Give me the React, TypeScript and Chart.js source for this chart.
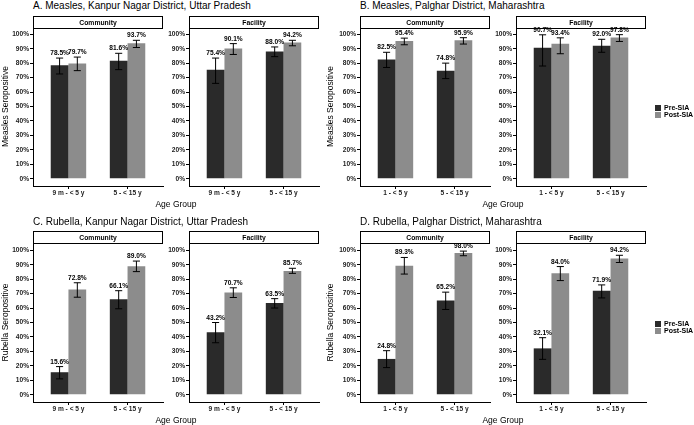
import React, { useEffect, useRef } from 'react';
import Chart from 'chart.js/auto';

Chart.defaults.font.family = "'Liberation Sans', Arial, sans-serif";

const seriesLabels = ['Pre-SIA', 'Post-SIA'];
const seriesColors = ['#2a2a2a', '#8c8c8c'];
const yTickValues = [0, 10, 20, 30, 40, 50, 60, 70, 80, 90, 100];
const kanpurAges = ['9 m - < 5 y', '5 - < 15 y'];
const palgharAges = ['1 - < 5 y', '5 - < 15 y'];

// A. Measles, Kanpur Nagar
const measlesKanpurCommPre = [78.5, 81.6];
const measlesKanpurCommPost = [79.7, 93.7];
const measlesKanpurCommPreCI = [[72.5, 83.5], [75.5, 86.8]];
const measlesKanpurCommPostCI = [[74.8, 84.2], [90.8, 95.8]];
const measlesKanpurFacPre = [75.4, 88.0];
const measlesKanpurFacPost = [90.1, 94.2];
const measlesKanpurFacPreCI = [[66.0, 83.5], [84.5, 91.2]];
const measlesKanpurFacPostCI = [[86.0, 93.5], [92.0, 95.8]];

// B. Measles, Palghar
const measlesPalgharCommPre = [82.5, 74.8];
const measlesPalgharCommPost = [95.4, 95.9];
const measlesPalgharCommPreCI = [[77.0, 87.5], [69.3, 80.0]];
const measlesPalgharCommPostCI = [[92.7, 97.3], [93.2, 97.6]];
const measlesPalgharFacPre = [90.7, 92.0];
const measlesPalgharFacPost = [93.4, 97.8];
const measlesPalgharFacPreCI = [[78.0, 99.6], [87.5, 96.5]];
const measlesPalgharFacPostCI = [[86.5, 97.5], [95.0, 99.7]];

// C. Rubella, Kanpur Nagar
const rubellaKanpurCommPre = [15.6, 66.1];
const rubellaKanpurCommPost = [72.8, 89.0];
const rubellaKanpurCommPreCI = [[11.0, 19.5], [59.5, 72.0]];
const rubellaKanpurCommPostCI = [[67.5, 77.5], [85.2, 92.5]];
const rubellaKanpurFacPre = [43.2, 63.5];
const rubellaKanpurFacPost = [70.7, 85.7];
const rubellaKanpurFacPreCI = [[36.0, 50.0], [60.0, 66.5]];
const rubellaKanpurFacPostCI = [[67.3, 74.0], [84.0, 87.5]];

// D. Rubella, Palghar
const rubellaPalgharCommPre = [24.8, 65.2];
const rubellaPalgharCommPost = [89.3, 98.0];
const rubellaPalgharCommPreCI = [[18.8, 30.5], [59.0, 71.0]];
const rubellaPalgharCommPostCI = [[83.5, 95.0], [96.2, 99.4]];
const rubellaPalgharFacPre = [32.1, 71.9];
const rubellaPalgharFacPost = [84.0, 94.2];
const rubellaPalgharFacPreCI = [[24.5, 39.5], [67.0, 76.0]];
const rubellaPalgharFacPostCI = [[79.0, 88.7], [91.5, 96.5]];

const PLOT_W = 130;
const PLOT_H = 159;
const PAD_TOP = 8;
const PAD_RIGHT = 4;
const X_AXIS_H = 14;

// error bars + value labels, placed with the chart's own scales
const ciPlugin = {
  id: 'ciBars',
  afterDatasetsDraw(chart: any) {
    const { ctx } = chart;
    const yScale = chart.scales.y;
    chart.data.datasets.forEach((ds: any, di: number) => {
      const meta = chart.getDatasetMeta(di);
      meta.data.forEach((bar: any, i: number) => {
        const [lo, hi] = ds.ci[i];
        const x = bar.x;
        const cap = bar.width * 0.4;
        const yLo = yScale.getPixelForValue(lo);
        const yHi = yScale.getPixelForValue(hi);
        ctx.save();
        ctx.strokeStyle = '#000';
        ctx.lineWidth = 1;
        ctx.beginPath();
        ctx.moveTo(x, yLo);
        ctx.lineTo(x, yHi);
        ctx.moveTo(x - cap / 2, yLo);
        ctx.lineTo(x + cap / 2, yLo);
        ctx.moveTo(x - cap / 2, yHi);
        ctx.lineTo(x + cap / 2, yHi);
        ctx.stroke();
        ctx.fillStyle = '#000';
        ctx.font = "bold 6.6px 'Liberation Sans', Arial, sans-serif";
        ctx.textAlign = 'center';
        ctx.textBaseline = 'bottom';
        ctx.fillText(ds.data[i].y.toFixed(1) + '%', x, yHi - 1.5);
        ctx.restore();
      });
    });
  },
};

interface FacetProps {
  left: number;
  top: number;
  axisW: number;
  yTitle?: string;
  titlePad?: number;
  ages: string[];
  pre: number[];
  post: number[];
  preCI: number[][];
  postCI: number[][];
}

const Facet: React.FC<FacetProps> = (p) => {
  const ref = useRef<HTMLCanvasElement>(null);

  useEffect(() => {
    if (!ref.current) return;
    const series = [p.pre, p.post];
    const cis = [p.preCI, p.postCI];
    const chart = new Chart(ref.current, {
      type: 'bar',
      data: {
        datasets: series.map((vals, s) => ({
          label: seriesLabels[s],
          data: vals.map((v, i) => ({ x: i + 1, y: v })),
          backgroundColor: seriesColors[s],
          borderWidth: 0,
          categoryPercentage: 0.6,
          barPercentage: 1,
          ci: cis[s],
        })),
      } as any,
      options: {
        animation: false,
        responsive: true,
        maintainAspectRatio: false,
        layout: { padding: { top: PAD_TOP, right: PAD_RIGHT, left: 0, bottom: 0 } },
        plugins: { legend: { display: false }, tooltip: { enabled: false } },
        scales: {
          x: {
            type: 'linear',
            min: 0.4,
            max: 2.6,
            offset: false,
            grid: { offset: false, drawOnChartArea: false, tickLength: 3, color: '#000' },
            border: { color: '#000', width: 1 },
            afterBuildTicks: (s: any) => {
              s.ticks = p.ages.map((_, i) => ({ value: i + 1 }));
            },
            afterFit: (s: any) => {
              s.height = X_AXIS_H;
            },
            ticks: {
              callback: (v: any) => p.ages[Number(v) - 1],
              font: { size: 6.6, weight: 'bold' },
              color: '#222',
              padding: 0,
              maxRotation: 0,
              autoSkip: false,
            },
          },
          y: {
            min: -5,
            max: 105,
            grid: { drawOnChartArea: false, tickLength: 3, color: '#000' },
            border: { color: '#000', width: 1 },
            afterBuildTicks: (s: any) => {
              s.ticks = yTickValues.map((v) => ({ value: v }));
            },
            afterFit: (s: any) => {
              s.width = p.axisW;
            },
            ticks: {
              callback: (v: any) => v + '%',
              font: { size: 6.6, weight: 'bold' },
              color: '#222',
              padding: 1,
            },
            title: {
              display: !!p.yTitle,
              text: p.yTitle || '',
              font: { size: 8.5, lineHeight: 1.2 },
              color: '#000',
              padding: { top: p.titlePad || 0, bottom: 0 },
            },
          },
        },
      } as any,
      plugins: [ciPlugin],
    });
    return () => chart.destroy();
  }, []);

  return (
    <div
      style={{
        position: 'absolute',
        left: p.left,
        top: p.top - PAD_TOP,
        width: p.axisW + PLOT_W + PAD_RIGHT,
        height: PAD_TOP + PLOT_H + X_AXIS_H,
      }}
    >
      <canvas ref={ref} />
    </div>
  );
};

const Strip: React.FC<{ left: number; top: number; text: string }> = ({ left, top, text }) => (
  <div
    style={{
      position: 'absolute',
      left,
      top,
      width: PLOT_W,
      height: 13,
      boxSizing: 'border-box',
      border: '1px solid #000',
      background: 'transparent',
      color: '#000',
      fontSize: 6.8,
      fontWeight: 'bold',
      lineHeight: '11px',
      textAlign: 'center',
      transform: 'translateZ(0)',
    }}
  >
    {text}
  </div>
);

const Legend: React.FC<{ top: number }> = ({ top }) => (
  <div style={{ position: 'absolute', left: 655, top }}>
    {seriesLabels.map((s, i) => (
      <div key={s} style={{ display: 'flex', alignItems: 'center', height: 7 }}>
        <div style={{ width: 6, height: 6, background: seriesColors[i], marginRight: 3 }} />
        <span style={{ fontSize: 7, fontWeight: 'bold', lineHeight: '7px' }}>{s}</span>
      </div>
    ))}
  </div>
);

const PanelTitle: React.FC<{ left: number; top: number; text: string }> = ({ left, top, text }) => (
  <div style={{ position: 'absolute', left, top, fontSize: 10, lineHeight: '10px', whiteSpace: 'nowrap' }}>
    {text}
  </div>
);

const XTitle: React.FC<{ center: number; top: number }> = ({ center, top }) => (
  <div
    style={{
      position: 'absolute',
      left: center - 40,
      width: 80,
      top,
      fontSize: 8.5,
      lineHeight: '10px',
      textAlign: 'center',
    }}
  >
    Age Group
  </div>
);

const rows = [
  {
    top: 27,
    stripTop: 16,
    titleTop: 1,
    xTitleTop: 199,
    legendTop: 104,
    yTitle: 'Measles Seropositive',
    left: {
      title: 'A. Measles, Kanpur Nagar District, Uttar Pradesh',
      ages: kanpurAges,
      comm: [measlesKanpurCommPre, measlesKanpurCommPost, measlesKanpurCommPreCI, measlesKanpurCommPostCI],
      fac: [measlesKanpurFacPre, measlesKanpurFacPost, measlesKanpurFacPreCI, measlesKanpurFacPostCI],
    },
    right: {
      title: 'B. Measles, Palghar District, Maharashtra',
      ages: palgharAges,
      comm: [measlesPalgharCommPre, measlesPalgharCommPost, measlesPalgharCommPreCI, measlesPalgharCommPostCI],
      fac: [measlesPalgharFacPre, measlesPalgharFacPost, measlesPalgharFacPreCI, measlesPalgharFacPostCI],
    },
  },
  {
    top: 243,
    stripTop: 231,
    titleTop: 217,
    xTitleTop: 415,
    legendTop: 320,
    yTitle: 'Rubella Seropositive',
    left: {
      title: 'C. Rubella, Kanpur Nagar District, Uttar Pradesh',
      ages: kanpurAges,
      comm: [rubellaKanpurCommPre, rubellaKanpurCommPost, rubellaKanpurCommPreCI, rubellaKanpurCommPostCI],
      fac: [rubellaKanpurFacPre, rubellaKanpurFacPost, rubellaKanpurFacPreCI, rubellaKanpurFacPostCI],
    },
    right: {
      title: 'D. Rubella, Palghar District, Maharashtra',
      ages: palgharAges,
      comm: [rubellaPalgharCommPre, rubellaPalgharCommPost, rubellaPalgharCommPreCI, rubellaPalgharCommPostCI],
      fac: [rubellaPalgharFacPre, rubellaPalgharFacPost, rubellaPalgharFacPreCI, rubellaPalgharFacPostCI],
    },
  },
];

// column geometry: group left edge, community axis x, facility axis x, y-title centre x
const groups = [
  { key: 'left', groupLeft: 0, commAxis: 33, facAxis: 189, yTitleX: 6 },
  { key: 'right', groupLeft: 322, commAxis: 360, facAxis: 516, yTitleX: 331 },
];

export default function App() {
  return (
    <div
      style={{
        position: 'absolute',
        left: 0,
        top: 0,
        width: 694,
        height: 425,
        background: '#fff',
        fontFamily: "'Liberation Sans', Arial, sans-serif",
        color: '#000',
        overflow: 'hidden',
      }}
    >
      {rows.map((row, ri) => (
        <React.Fragment key={ri}>
          {groups.map((g) => {
            const panel = (row as any)[g.key];
            const axisW = g.commAxis - g.groupLeft;
            return (
              <React.Fragment key={g.key}>
                <PanelTitle left={g.commAxis} top={row.titleTop} text={panel.title} />
                <Strip left={g.commAxis} top={row.stripTop} text="Community" />
                <Strip left={g.facAxis} top={row.stripTop} text="Facility" />
                <Facet
                  left={g.groupLeft}
                  top={row.top}
                  axisW={axisW}
                  yTitle={row.yTitle}
                  titlePad={g.yTitleX - g.groupLeft - 5.1}
                  ages={panel.ages}
                  pre={panel.comm[0]}
                  post={panel.comm[1]}
                  preCI={panel.comm[2]}
                  postCI={panel.comm[3]}
                />
                <Facet
                  left={g.facAxis - 30}
                  top={row.top}
                  axisW={30}
                  ages={panel.ages}
                  pre={panel.fac[0]}
                  post={panel.fac[1]}
                  preCI={panel.fac[2]}
                  postCI={panel.fac[3]}
                />
                <XTitle center={(g.commAxis + g.facAxis + PLOT_W) / 2} top={row.xTitleTop} />
              </React.Fragment>
            );
          })}
          <Legend top={row.legendTop} />
        </React.Fragment>
      ))}
    </div>
  );
}
